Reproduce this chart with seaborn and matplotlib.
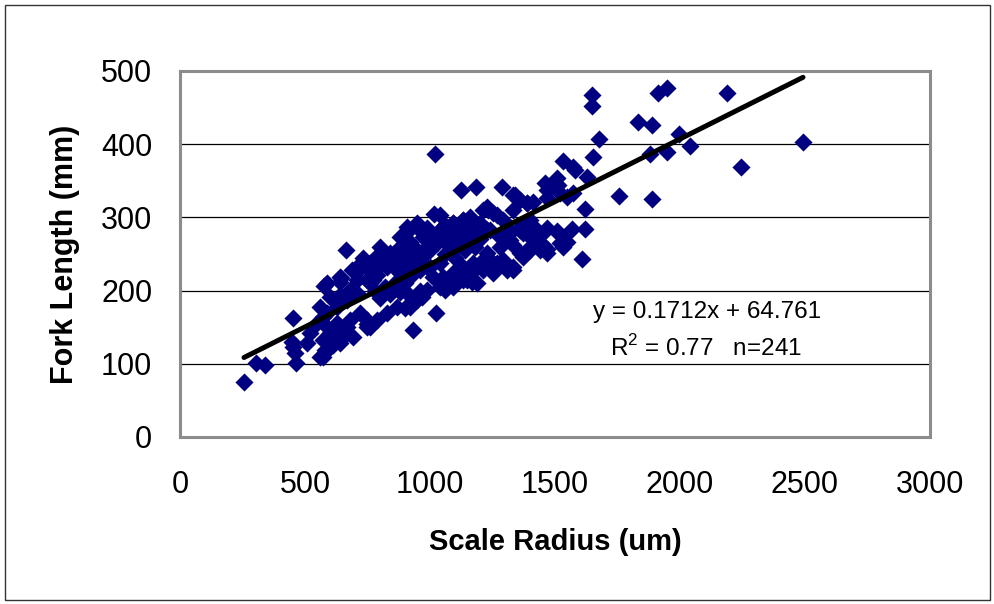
import matplotlib
matplotlib.use("Agg")
import matplotlib.pyplot as plt
import seaborn as sns
import pandas as pd
from matplotlib.patches import Rectangle

# ---- data ----
scale_radius = [
    256, 304, 340, 452, 452, 460, 464, 576, 572, 580, 644, 664, 932, 1024, 1020, 1124, 1184, 1288,
    1016, 904, 952, 1648, 1648, 1912, 1948, 1832, 1888, 1676, 1996, 2040, 1652, 1880, 1948, 1532,
    1572, 1580, 1460, 1480, 1508, 1512, 1628, 1468, 1572, 1756, 1888, 1620, 1452, 1508, 1568, 1620,
    1468, 1532, 1608, 2188, 2492, 2244, 1340, 1360, 1388, 1232, 1268, 1228, 1308, 1360, 1388, 1412,
    1452, 1332, 1400, 1360, 1292, 1252, 1308, 1188, 1228, 1160, 1132, 1092, 1040, 988, 1012, 972,
    1040, 1092, 1132, 1172, 748, 652, 1168, 1060, 968, 900, 1332, 1268, 1392,
    892, 800, 840, 880, 908, 732, 760, 708, 688, 640, 588, 600, 640, 680, 748, 788, 828, 868, 908,
    588, 620, 668, 692, 748, 788, 828, 868, 640, 612, 560, 572,
    1040, 908, 948, 988, 880, 920, 972, 1012, 1052, 1092, 1132, 1160, 1212, 908, 948, 988, 1028,
    1068, 1108, 1148, 1188, 880, 920, 960, 1000, 1052, 1092, 1132, 1172, 1212, 908, 948, 988, 1040,
    1080, 1148, 1188, 920,
    1332, 1388, 1412, 1228, 1252, 1292, 1332, 1468, 1520, 1548, 1200, 1240, 1280, 1320, 1360, 1400,
    1428, 1468, 1508, 1532, 1520, 1548, 1228, 1280, 1320, 1372, 1400, 1440, 1468, 1240, 1280, 1332,
    1372, 1212, 1252,
    640, 708, 772, 448, 560, 588, 572, 600, 520, 548, 588, 628, 668, 708, 628, 652, 680, 720, 748,
    760, 600, 640, 508,
    720, 740, 760, 780, 800, 820, 840, 860, 880, 760, 780, 800, 820, 840, 860, 880, 900, 920, 940,
    960, 980, 1000, 1060, 1080, 1100, 1120, 1140, 1160, 1180, 1200, 1100, 1120, 1060, 1000, 960,
]
fork_length = [
    75, 101, 99, 162, 123, 115, 101, 206, 109, 119, 217, 255, 146, 169, 386, 338, 341, 342,
    305, 279, 285, 467, 452, 470, 477, 431, 426, 407, 414, 397, 383, 386, 389, 377,
    369, 365, 347, 342, 354, 344, 355, 327, 333, 329, 325, 311, 279, 281, 284, 284,
    257, 259, 243, 470, 403, 369, 331, 324, 320, 310, 303, 283, 285, 283, 287, 269,
    262, 262, 255, 251, 242, 232, 228, 232, 246, 219, 214, 205, 238, 232, 219, 273,
    283, 292, 296, 294, 155, 137, 212, 201, 191, 176, 232, 238, 255,
    276, 260, 251, 260, 255, 245, 238, 232, 228, 219, 210, 191, 194, 201, 214, 221, 232, 228, 238,
    150, 146, 150, 137, 150, 160, 169, 178, 133, 126, 178, 164,
    303, 287, 292, 286, 273, 266, 279, 273, 287, 292, 296, 301, 310, 251, 255, 260, 265,
    269, 273, 279, 283, 224, 219, 228, 232, 219, 224, 232, 238, 242, 197, 187, 201, 205,
    210, 214, 210, 178,
    331, 320, 321, 314, 306, 296, 310, 337, 333, 328, 292, 283, 273, 279, 287, 296,
    283, 285, 280, 273, 265, 266, 251, 260, 269, 279, 260, 255, 251, 242, 238, 228,
    246, 228, 224,
    212, 214, 214, 130, 109, 119, 133, 142, 142, 156, 169, 178, 187, 197, 156, 142, 160, 169, 160,
    150, 123, 128, 128,
    230, 240, 228, 245, 235, 248, 238, 245, 240, 210, 200, 190, 205, 195, 210, 198, 210, 240, 230,
    245, 250, 255, 250, 260, 245, 262, 255, 270, 260, 270, 280, 285, 290, 275, 200,
]

slope = 0.1712
intercept = 64.761
equation_text = "y = 0.1712x + 64.761"
stats_text = r"R$^2$ = 0.77   n=241"

x_ticks = [0, 500, 1000, 1500, 2000, 2500, 3000]
y_ticks = [0, 100, 200, 300, 400, 500]

df = pd.DataFrame({"Scale Radius (um)": scale_radius, "Fork Length (mm)": fork_length})
xmin, xmax = min(scale_radius), max(scale_radius)
fit = pd.DataFrame({"x": [xmin, xmax], "y": [slope * xmin + intercept, slope * xmax + intercept]})

# ---- style ----
sns.set_style("white")
plt.rcParams["font.family"] = ["Liberation Sans", "DejaVu Sans"]
plt.rcParams["mathtext.fontset"] = "custom"
plt.rcParams["mathtext.rm"] = "Liberation Sans"
plt.rcParams["text.color"] = "black"
plt.rcParams["axes.labelcolor"] = "black"

fig = plt.figure(figsize=(9.95, 6.04), dpi=100)
ax = fig.add_axes([180 / 995, 1 - 437 / 604, 750 / 995, 366 / 604])

for yv in y_ticks[1:-1]:
    ax.axhline(yv, color="black", lw=0.9, zorder=0)

sns.scatterplot(data=df, x="Scale Radius (um)", y="Fork Length (mm)", marker="D",
                color="#000080", s=85, linewidth=0, ax=ax, zorder=2)
sns.lineplot(data=fit, x="x", y="y", color="black", lw=3.6, ax=ax, zorder=3,
             solid_capstyle="round")

ax.set_xlim(0, 3000)
ax.set_ylim(0, 500)
ax.set_xticks(x_ticks)
ax.set_yticks(y_ticks)
ax.tick_params(axis="both", direction="out", length=8, width=1.2, color="#555555",
               labelsize=22, labelcolor="black", pad=12)
ax.tick_params(axis="x", pad=16)
for s in ax.spines.values():
    s.set_color("#8c8c8c")
    s.set_linewidth(2.2)
    s.set_visible(True)

ax.set_xlabel("Scale Radius (um)", fontsize=21, fontweight="bold", labelpad=20, color="black")
ax.set_ylabel("Fork Length (mm)", fontsize=22, fontweight="bold", labelpad=15, color="black")

ax.text(2108, 171, equation_text, fontsize=17.5, ha="center", va="center", color="black")
ax.text(2104, 121, stats_text, fontsize=17.5, ha="center", va="center", color="black")

fig.patches.append(Rectangle((5 / 995, 4 / 604), 985 / 995, 595 / 604, transform=fig.transFigure,
                             fill=False, edgecolor="#333333", lw=1))

fig.savefig("out.png", dpi=100)
